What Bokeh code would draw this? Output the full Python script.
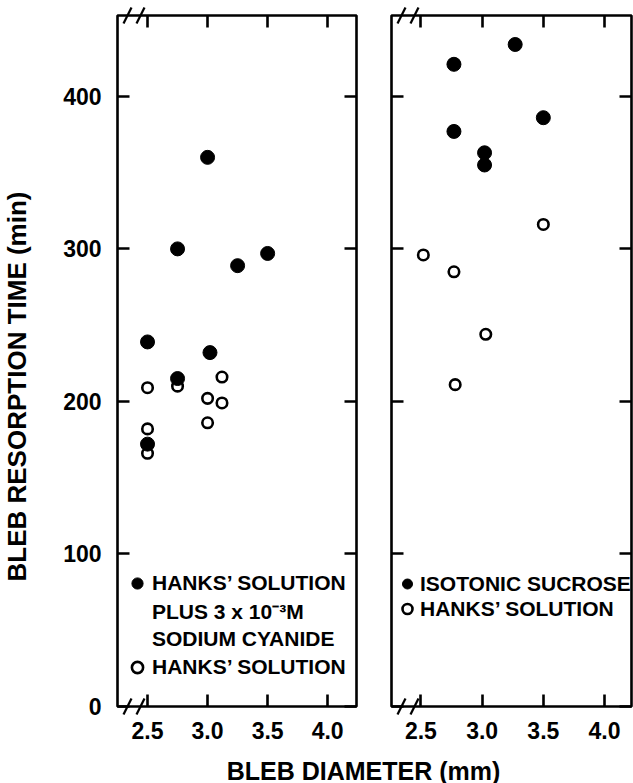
import math
from bokeh.plotting import figure
from bokeh.models import Range1d, LinearAxis, FixedTicker, Legend, LegendItem, Label
from bokeh.layouts import column, row
from bokeh.embed import file_html
from bokeh.resources import INLINE

# ---------------- data ----------------
left_cyanide_x = [2.5, 2.5, 2.75, 2.75, 3.0, 3.02, 3.25, 3.5]
left_cyanide_y = [172, 239, 215, 300, 360, 232, 289, 297]
left_hanks_x = [2.5, 2.5, 2.5, 2.75, 3.0, 3.0, 3.12, 3.12]
left_hanks_y = [209, 182, 166, 210, 202, 186, 216, 199]

right_sucrose_x = [2.77, 2.77, 3.02, 3.02, 3.27, 3.5]
right_sucrose_y = [421, 377, 363, 355, 434, 386]
right_hanks_x = [2.52, 2.77, 2.78, 3.03, 3.5]
right_hanks_y = [296, 285, 211, 244, 316]

x_ticks = [2.5, 3.0, 3.5, 4.0]
x_tick_labels = ["2.5", "3.0", "3.5", "4.0"]
y_ticks = [0, 100, 200, 300, 400]
y_tick_labels = ["0", "100", "200", "300", "400"]

left_legend_labels = ["HANKS\u2019 SOLUTION", "PLUS 3 x 10\u207b\u00b3M", "SODIUM CYANIDE", "HANKS\u2019 SOLUTION"]
right_legend_labels = ["ISOTONIC SUCROSE", "HANKS\u2019 SOLUTION"]
x_title = "BLEB DIAMETER (mm)"
y_title = "BLEB RESORPTION TIME (min)"

left_x_range = (2.25, 4.24)
right_x_range = (2.26, 4.22)
y_range = (0, 453)

FONT = "Liberation Sans"
PANEL_H = 750
BORDER_TOP = 15
BORDER_BOTTOM = 44


def add_axis(p, side, ticks, labels, show_labels, standoff=0):
    ax = LinearAxis(ticker=FixedTicker(ticks=ticks))
    ax.axis_line_color = None
    ax.major_tick_in = 12
    ax.major_tick_out = 0
    ax.major_tick_line_width = 2.6
    ax.major_tick_line_color = "black"
    ax.minor_tick_line_color = None
    if show_labels:
        ax.major_label_overrides = {t: l for t, l in zip(ticks, labels)}
        ax.major_label_text_font = FONT
        ax.major_label_text_font_style = "bold"
        ax.major_label_text_font_size = "23px"
        ax.major_label_text_color = "black"
        ax.major_label_standoff = standoff
    else:
        ax.major_label_text_color = None
        ax.major_label_text_font_size = "1px"
        ax.major_label_standoff = 0
    p.add_layout(ax, side)
    return ax


def make_panel(width, min_left, min_right, xr, show_y_labels):
    p = figure(width=width, height=PANEL_H,
               x_range=Range1d(*xr), y_range=Range1d(*y_range),
               output_backend="svg", toolbar_location=None,
               x_axis_location=None, y_axis_location=None,
               min_border_left=min_left, min_border_right=min_right,
               min_border_top=BORDER_TOP, min_border_bottom=BORDER_BOTTOM)
    p.xgrid.visible = False
    p.ygrid.visible = False
    p.outline_line_color = "black"
    p.outline_line_width = 2.6
    p.background_fill_color = "white"
    p.border_fill_color = "white"
    add_axis(p, "below", x_ticks, x_tick_labels, True, standoff=15)
    add_axis(p, "above", x_ticks, x_tick_labels, False)
    add_axis(p, "left", y_ticks, y_tick_labels, show_y_labels, standoff=16)
    add_axis(p, "right", y_ticks, y_tick_labels, False)

    # axis-break marks "//" near the left end of both x axes
    frame_w = width - min_left - min_right
    frame_h = PANEL_H - BORDER_TOP - BORDER_BOTTOM
    sx = frame_w / (xr[1] - xr[0])
    sy = frame_h / (y_range[1] - y_range[0])
    x0s, x1s, y0s, y1s = [], [], [], []
    for edge in (y_range[0], y_range[1]):
        for off in (10, 23):
            c = xr[0] + off / sx
            x0s.append(c - 4 / sx)
            x1s.append(c + 4 / sx)
            y0s.append(edge - 8 / sy)
            y1s.append(edge + 8 / sy)
    p.segment(x0=x0s, y0=y0s, x1=x1s, y1=y1s, line_color="black",
              line_width=2.2, level="overlay")
    return p


def add_legend(p, items, loc, gw, gh, standoff):
    leg = Legend(items=items, location=loc, orientation="vertical",
                 glyph_width=gw, glyph_height=gh, label_height=gh,
                 label_standoff=standoff, spacing=0, padding=0, margin=0,
                 background_fill_alpha=0, border_line_color=None,
                 label_text_font=FONT, label_text_font_style="bold",
                 label_text_font_size="21px", label_text_color="black")
    p.add_layout(leg)


def blank_figure(width, height):
    f = figure(width=width, height=height, x_range=Range1d(0, 1), y_range=Range1d(0, 1),
               output_backend="svg", toolbar_location=None,
               x_axis_location=None, y_axis_location=None,
               min_border_left=0, min_border_right=0, min_border_top=0, min_border_bottom=0)
    f.xgrid.visible = False
    f.ygrid.visible = False
    f.outline_line_color = None
    return f


# ---------------- y title strip ----------------
p0 = blank_figure(34, PANEL_H)
p0.add_layout(Label(x=16.7, y=320, x_units="screen", y_units="screen",
                    text=y_title, angle=math.pi / 2,
                    text_align="center", text_baseline="middle",
                    text_font=FONT, text_font_style="bold", text_font_size="26px",
                    text_color="black"))

# ---------------- left panel ----------------
p1 = make_panel(339, 83, 17, left_x_range, True)
l_open = p1.scatter(left_hanks_x, left_hanks_y, size=10.5, fill_color="white",
                    line_color="black", line_width=2.6)
l_fill = p1.scatter(left_cyanide_x, left_cyanide_y, size=14, fill_color="black",
                    line_color="black", line_width=1)
l_blank = p1.scatter(x=[], y=[], fill_alpha=0, line_alpha=0)
add_legend(p1, [
    LegendItem(label=left_legend_labels[0], renderers=[l_fill]),
    LegendItem(label=left_legend_labels[1], renderers=[l_blank]),
    LegendItem(label=left_legend_labels[2], renderers=[l_blank]),
    LegendItem(label=left_legend_labels[3], renderers=[l_open]),
], (6, 25), 28, 28, 1)

# ---------------- right panel ----------------
p2 = make_panel(260, 18, 2, right_x_range, False)
r_open = p2.scatter(right_hanks_x, right_hanks_y, size=10.5, fill_color="white",
                    line_color="black", line_width=2.6)
r_fill = p2.scatter(right_sucrose_x, right_sucrose_y, size=14, fill_color="black",
                    line_color="black", line_width=1)
add_legend(p2, [
    LegendItem(label=right_legend_labels[0], renderers=[r_fill]),
    LegendItem(label=right_legend_labels[1], renderers=[r_open]),
], (3, 85), 26, 25, 0)

# ---------------- shared x title ----------------
p3 = blank_figure(633, 33)
p3.add_layout(Label(x=363, y=13, x_units="screen", y_units="screen", text=x_title,
                    text_align="center", text_baseline="middle",
                    text_font=FONT, text_font_style="bold", text_font_size="25px",
                    text_color="black"))

layout = column(row(p0, p1, p2), p3)
open("out.html", "w").write(file_html(layout, INLINE))
